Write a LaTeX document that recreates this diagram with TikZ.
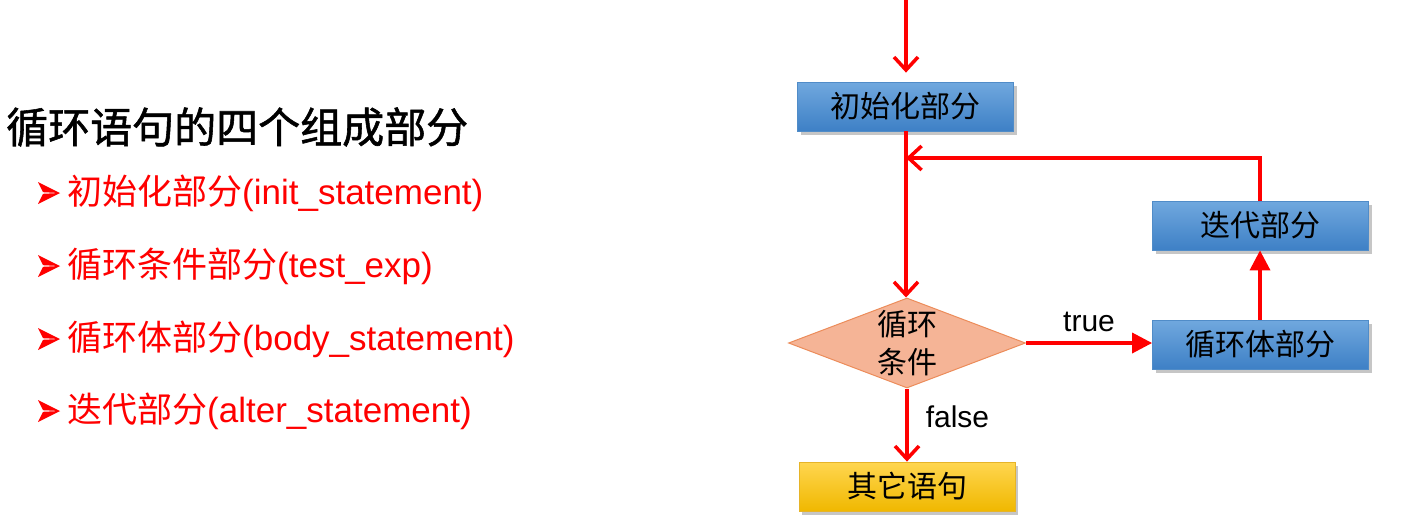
\documentclass[tikz,border=0pt]{standalone}
\usepackage{fontspec}
\setmainfont{Liberation Sans}
\newfontfamily\cjk{Noto Sans CJK SC}
\newfontfamily\cjkb[FakeBold=1.3]{Noto Sans CJK SC}
\usetikzlibrary{arrows.meta,shapes.geometric,shadows}
\definecolor{arrred}{RGB}{255,0,0}
\definecolor{btop}{RGB}{112,168,222}
\definecolor{bbot}{RGB}{62,128,198}
\definecolor{bline}{RGB}{80,140,200}
\definecolor{ytop}{RGB}{255,214,80}
\definecolor{ybot}{RGB}{240,184,0}
\definecolor{yline}{RGB}{230,180,40}
\definecolor{dfill}{RGB}{245,180,150}
\definecolor{dline}{RGB}{236,140,90}
\tikzset{
  boxshape/.style={rectangle, minimum width=216pt, minimum height=49pt, inner sep=0pt,
    font=\fontsize{30}{34}\selectfont\cjk,
    drop shadow={opacity=0.45, shadow xshift=3pt, shadow yshift=-4pt}},
  bluebox/.style={boxshape, top color=btop, bottom color=bbot, draw=bline, line width=0.8pt},
  yellowbox/.style={boxshape, top color=ytop, bottom color=ybot, draw=yline, line width=0.8pt},
  condshape/.style={diamond, minimum width=237pt, minimum height=90pt, inner sep=0pt,
    fill=dfill, draw=dline, line width=1pt},
  flow/.style={draw=arrred, line width=3.5pt, -{Straight Barb[length=13pt, width=24pt, line width=3.5pt]}},
  flowfill/.style={draw=arrred, line width=3.5pt, -{Triangle[length=20pt, width=20pt]}},
  lbl/.style={font=\fontsize{30}{34}\selectfont, text=black, inner sep=0pt},
  itemtxt/.style={anchor=west, text=arrred, inner sep=0pt, font=\fontsize{35}{40}\selectfont},
  bulletfill/.style={fill=arrred, draw=none}
}
\begin{document}
\begin{tikzpicture}[x=1pt, y=-1pt]
\useasboundingbox (0,0) rectangle (1409,530);

% left text
\node[anchor=west, inner sep=0pt, font=\fontsize{42}{46}\selectfont\cjkb] (title) at (6,127) {循环语句的四个组成部分};

\foreach \yy/\nm/\cj/\la in {193/i1/初始化部分/(init\_statement), 266/i2/循环条件部分/(test\_exp), 339/i3/循环体部分/(body\_statement), 411/i4/迭代部分/(alter\_statement)}{
  \fill[bulletfill] (38,\yy-11) -- (60,\yy) -- (43,\yy-0.8) -- cycle;
  \fill[bulletfill] (38,\yy+11) -- (60,\yy) -- (43,\yy+0.8) -- cycle;
  \node[itemtxt] (\nm) at (67,\yy) {{\cjk \cj}\la};
}

% flowchart
\coordinate (start) at (906,0);
\node[bluebox] (init) at (905.5,106.5) {初始化部分};
\node[condshape] (cond) at (907,343) {};
\node[font=\fontsize{30}{38}\selectfont\cjk, align=center, inner sep=0pt] (condtxt) at (cond.center) {循环\\条件};
\node[bluebox] (body) at (1260.5,344.5) {循环体部分};
\node[bluebox] (iter) at (1260.5,225.5) {迭代部分};
\node[yellowbox] (other) at (907,486.5) {其它语句};
\coordinate (back) at (1260,158);
\coordinate (merge) at (906,158);

\draw[flow, shorten >=9pt] (start) -- (init.north -| start);
\draw[flow] (init.south -| start) -- (cond.north -| start);
\draw[flow] (iter.north -| back) |- (merge);
\draw[flowfill] (cond.east) -- (cond.east -| body.west) node[lbl, midway, above=9pt] (tl) {true};
\draw[flowfill] (body.north -| back) -- (iter.south -| back);
\draw[flow] (cond.south) -- (other.north) node[lbl, pos=0.38, right=17pt] (fl) {false};
\end{tikzpicture}
\end{document}
